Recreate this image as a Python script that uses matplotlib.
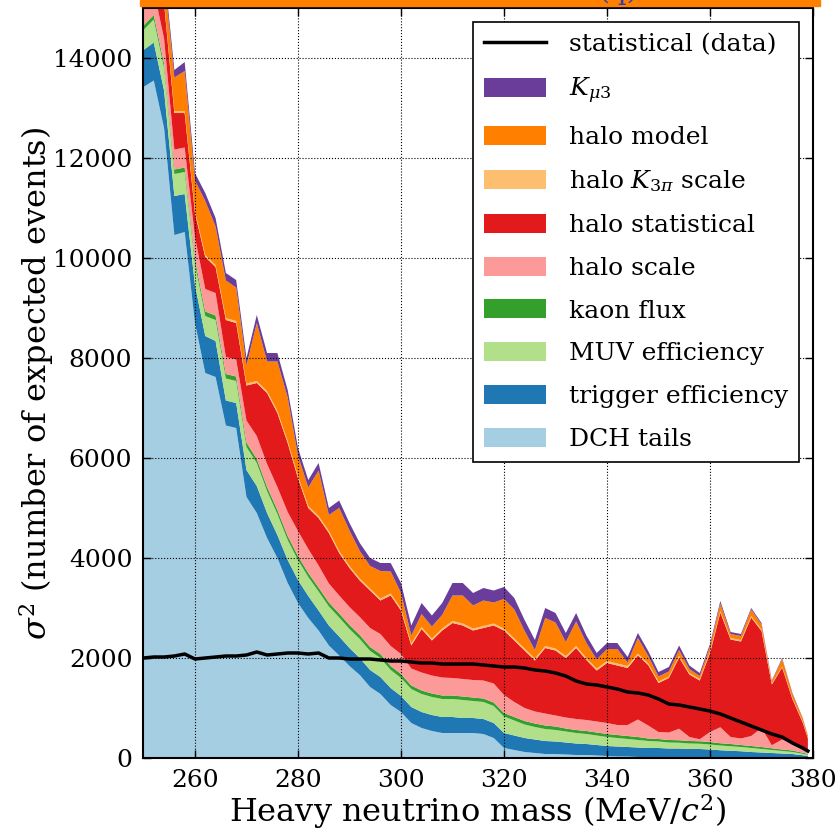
import matplotlib
matplotlib.use("Agg")
import matplotlib.pyplot as plt
from matplotlib.patches import Rectangle

plt.rcParams['font.family'] = ['DejaVu Serif']
plt.rcParams['mathtext.fontset'] = 'dejavuserif'

# heavy neutrino mass points (MeV/c^2)
mass = list(range(250, 379, 2)) + [379]

# contributions to sigma^2, bottom of the stack first
dch_tails = [13420, 13550, 12600, 10460, 10520, 8700, 7700, 7620, 6650, 6600, 5220,
             4900, 4400, 4000, 3500, 3100, 2800, 2550, 2250, 2050, 1840, 1660,
             1420, 1280, 1060, 920, 700, 600, 540, 500, 500, 500, 500,
             480, 400, 200, 160, 120, 100, 80, 80, 70, 60, 60,
             50, 40, 30, 30, 20, 20, 20, 20, 20, 20, 20,
             20, 15, 15, 15, 10, 10, 10, 10, 10, 5, 5]
trigger_eff = [740, 760, 750, 780, 760, 760, 740, 720, 500, 500, 540,
               540, 500, 460, 460, 460, 440, 400, 400, 380, 360, 340,
               340, 340, 340, 320, 320, 320, 320, 320, 320, 300, 300,
               300, 300, 300, 290, 280, 270, 260, 250, 240, 230, 220,
               210, 200, 200, 190, 190, 180, 180, 170, 170, 160, 160,
               150, 140, 130, 120, 110, 100, 90, 80, 70, 50, 40]
muv_eff = [400, 460, 450, 440, 440, 420, 400, 420, 440, 440, 460,
           460, 440, 420, 400, 400, 380, 380, 380, 380, 380, 380,
           380, 380, 360, 360, 360, 360, 360, 360, 360, 360, 340,
           340, 340, 330, 300, 270, 250, 240, 230, 220, 210, 200,
           190, 180, 170, 160, 150, 140, 130, 120, 115, 110, 105,
           100, 95, 90, 85, 80, 70, 60, 50, 40, 30, 20]
kaon_flux = [90, 90, 90, 90, 90, 90, 90, 90, 90, 90, 90,
             80, 80, 80, 80, 80, 80, 80, 80, 80, 80, 80,
             80, 80, 80, 80, 70, 70, 70, 70, 70, 70, 70,
             70, 70, 70, 70, 70, 70, 70, 70, 60, 60, 60,
             60, 60, 60, 60, 60, 50, 50, 50, 50, 50, 50,
             50, 45, 45, 40, 40, 40, 35, 30, 30, 20, 20]
halo_scale = [500, 500, 500, 400, 400, 450, 450, 450, 340, 340, 440,
              460, 460, 460, 480, 500, 480, 440, 380, 360, 360, 360,
              380, 400, 400, 400, 340, 360, 360, 360, 350, 350, 350,
              360, 380, 360, 300, 260, 240, 240, 220, 220, 220, 220,
              220, 220, 200, 220, 350, 260, 140, 150, 230, 80, 40,
              200, 320, 140, 130, 200, 380, 60, 200, 150, 80, 40]
halo_stat = [850, 840, 710, 730, 690, 480, 640, 520, 740, 730, 700,
             1060, 1420, 1480, 1380, 1060, 820, 950, 1010, 850, 780, 730,
             750, 670, 1010, 870, 460, 870, 700, 940, 1100, 1070, 990,
             1050, 1160, 1290, 1230, 1150, 1020, 1310, 1300, 1190, 1420, 1200,
             1020, 1200, 1190, 1140, 1280, 1210, 980, 1090, 1425, 1250, 1175,
             1580, 2295, 1950, 1940, 2370, 1940, 1215, 1440, 880, 525, 265]
halo_k3pi = [40, 40, 40, 40, 40, 40, 40, 40, 40, 40, 40,
             40, 40, 40, 40, 40, 40, 40, 40, 40, 40, 40,
             40, 40, 40, 40, 40, 40, 40, 40, 40, 40, 40,
             40, 40, 40, 40, 40, 40, 40, 40, 40, 40, 40,
             40, 40, 40, 40, 40, 30, 30, 30, 30, 30, 30,
             30, 30, 30, 30, 30, 30, 20, 20, 20, 20, 10]
halo_model = [800, 800, 500, 670, 800, 610, 1080, 770, 750, 670, 360,
              1160, 590, 990, 870, 410, 370, 910, 320, 860, 710, 550,
              450, 550, 440, 310, 160, 260, 240, 270, 510, 560, 460,
              510, 420, 590, 580, 350, 170, 560, 520, 280, 490, 300,
              180, 240, 290, 70, 310, 150, 100, 100, 120, 80, 60,
              100, 150, 80, 80, 130, 100, 40, 150, 80, 60, 40]
kmu3 = [150, 150, 150, 150, 180, 150, 160, 170, 150, 150, 150,
        160, 170, 170, 150, 150, 150, 150, 140, 150, 150, 160,
        160, 160, 170, 200, 200, 220, 220, 240, 250, 250, 250,
        250, 240, 240, 230, 220, 200, 200, 190, 180, 170, 150,
        130, 120, 120, 110, 100, 100, 90, 90, 90, 70, 60,
        50, 50, 40, 40, 30, 30, 20, 20, 20, 10, 10]

# statistical uncertainty from data
stat_data = [2000, 2020, 2020, 2040, 2080, 1980, 2000, 2020, 2040, 2040, 2060,
             2120, 2060, 2080, 2100, 2100, 2080, 2100, 2000, 2000, 1980, 1980,
             1980, 1960, 1940, 1940, 1920, 1900, 1900, 1880, 1880, 1880, 1880,
             1860, 1840, 1820, 1820, 1800, 1760, 1740, 1700, 1640, 1540, 1480,
             1460, 1420, 1380, 1320, 1300, 1260, 1180, 1080, 1060, 1020, 980,
             940, 880, 800, 720, 640, 560, 480, 420, 300, 200, 140]

layers = [dch_tails, trigger_eff, muv_eff, kaon_flux, halo_scale,
          halo_stat, halo_k3pi, halo_model, kmu3]
labels = ['DCH tails', 'trigger efficiency', 'MUV efficiency', 'kaon flux',
          'halo scale', 'halo statistical', r'halo $K_{3\pi}$ scale',
          'halo model', r'$K_{\mu3}$']
colors = ['#a6cee3', '#1f78b4', '#b2df8a', '#33a02c', '#fb9a99',
          '#e31a1c', '#fdbf6f', '#ff7f00', '#6a3d9a']

fig = plt.figure(figsize=(8.4, 8.36), dpi=100)
ax = fig.add_axes([0.1708, 0.0933, 0.7971, 0.8971])

polys = ax.stackplot(mass, *layers, colors=colors, labels=labels, linewidth=0)
line, = ax.plot(mass, stat_data, color='black', lw=2.5,
                label='statistical (data)', zorder=3)

ax.set_xlim(250, 380)
ax.set_ylim(0, 15000)
ax.set_xticks(range(260, 381, 20))
ax.set_yticks(range(0, 14001, 2000))
ax.set_axisbelow(False)
ax.grid(True, color='black', linestyle=':', linewidth=0.8)
ax.tick_params(direction='in', top=True, right=True, labelsize=18,
               length=6, width=1, pad=8)
for sp in ax.spines.values():
    sp.set_linewidth(1.5)

ax.set_xlabel(r'Heavy neutrino mass (MeV/$c^2$)', fontsize=23, labelpad=0)
ax.set_ylabel(r'$\sigma^2$ (number of expected events)', fontsize=23, labelpad=-2)

handles = [line] + polys[::-1]
leg = ax.legend(handles, [h.get_label() for h in handles], loc='upper right',
                fontsize=18, frameon=True, fancybox=False, edgecolor='black',
                framealpha=1, handlelength=2.5, handleheight=0.8,
                labelspacing=0.78, borderpad=0.45, handletextpad=0.9,
                borderaxespad=0.55)
leg.get_frame().set_linewidth(1.2)
leg.set_zorder(5)

# title strip cut at the top edge
fig.patches.append(Rectangle((140 / 840, 1 - 6 / 836), 680 / 840, 6 / 836,
                             transform=fig.transFigure, color='#ff8000'))
fig.text(0.736, 1 - 5 / 836, '(q)', color='#3040b0', fontsize=20,
         ha='center', va='bottom')

fig.savefig('out.png', dpi=100)
